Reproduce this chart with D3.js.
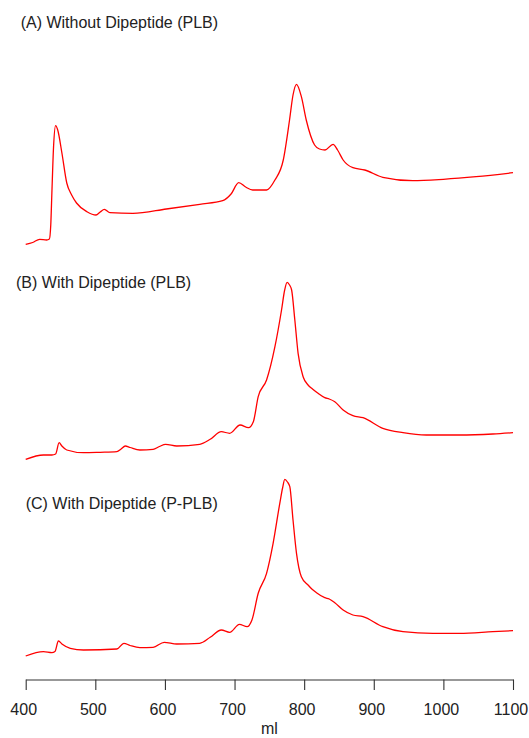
<!DOCTYPE html>
<html>
<head>
<meta charset="utf-8">
<script src="https://cdn.jsdelivr.net/npm/d3@7"></script>
<style>
body { margin: 0; background: #fff; }
svg { display: block; }
text { font-family: "Liberation Sans", Arial, sans-serif; fill: #222; }
</style>
</head>
<body>
<svg id="chart" width="529" height="738"></svg>
<script>
// elution volume (ml) and relative absorbance
var mlA  = [400, 410, 420, 430, 434, 436, 437.6, 440, 443, 446, 452, 459, 466, 473, 488, 501, 507, 513, 521, 554,
            602, 650, 683, 695, 706, 716, 726, 746, 758, 770, 779, 784, 789, 796, 803, 815, 822, 830, 841.5, 848,
            856, 870, 887, 913, 956, 1000, 1047, 1100];
var absA = [5.7, 7.5, 10.7, 10, 11, 25, 57, 103, 124.3, 120, 97, 67, 55, 47, 38.3, 35, 38, 40.7, 37.3, 36.7,
            41, 45.7, 49.3, 56, 67.3, 63, 60, 60, 70, 90, 130, 155, 165.7, 153.3, 130, 105, 101, 100, 105.7, 100,
            90, 82.3, 80, 72.7, 69.3, 70.7, 73.3, 77.3];

var mlB  = [400, 425.5, 437.6, 443, 448, 452, 459, 483, 507, 531, 537, 543, 550, 564, 583, 592, 601, 617, 650, 665,
            681, 693, 708, 720, 727, 734, 746, 758, 767.5, 772, 775.5, 779, 782, 786.6, 791.3, 798.5, 805.6, 812, 820, 829.6,
            836, 844, 856, 870, 884.5, 913, 942, 975.5, 1023, 1071, 1100];
var absB = [5.7, 10, 10, 11, 22.3, 19, 15, 12.3, 12.7, 13.3, 16, 19, 17.5, 15, 15.7, 18.5, 20.7, 19, 20.7, 25.7,
            33.3, 31.7, 40, 37.3, 43.3, 68.3, 85, 118.3, 155, 175, 182.7, 180, 175, 145, 111.7, 88.3, 80, 76, 71.7, 67.3,
            66, 63.3, 55, 49.3, 47.3, 36.7, 32.3, 30, 30, 31, 32.3];

var mlC  = [400, 425.5, 437.6, 442, 447, 452, 464, 483, 531, 541, 550, 564, 583, 599, 617, 650, 665, 681, 693, 707,
            718, 725, 734, 746, 755.4, 765, 769, 772.2, 776, 779.4, 784, 789, 796, 805.6, 811, 817.7, 829.6, 836, 844, 856,
            870, 884.5, 913, 942, 985, 1023, 1071, 1100];
var absC = [4, 8.3, 7.3, 8.5, 19, 16, 11.7, 10, 11, 16.7, 14.5, 12.3, 12.7, 17.7, 16, 16.7, 22.7, 30, 27.7, 35.7,
            33.3, 40, 66.7, 86.7, 116.7, 156.7, 172, 180.7, 178, 173.3, 140, 106.7, 83.3, 75, 71, 67.3, 62.3, 61, 57.3, 50,
            45, 43.3, 33.3, 28.3, 26.7, 26.7, 28.3, 29.3];

var titles = ['(A) Without Dipeptide (PLB)', '(B) With Dipeptide (PLB)', '(C) With Dipeptide (P-PLB)'];
var xTicks = [400, 500, 600, 700, 800, 900, 1000, 1100];
var xLabel = 'ml';

var svg = d3.select('#chart');

var x = d3.scaleLinear()
    .domain([400, 1100])
    .range([25.7, 513]);

// layout of the three stacked panels
var panels = [
    { ml: mlA, abs: absA, title: titles[0], bottom: 250, titleX: 20.7, titleY: 28.3 },
    { ml: mlB, abs: absB, title: titles[1], bottom: 465, titleX: 16,   titleY: 287.5 },
    { ml: mlC, abs: absC, title: titles[2], bottom: 660, titleX: 25.7, titleY: 509 }
];

panels.forEach(function(p) {
    var y = d3.scaleLinear()
        .domain([0, 200])
        .range([p.bottom, p.bottom - 200]);

    var pts = p.ml.map(function(v, i) {
        return [v, p.abs[i]];
    });

    var line = d3.line()
        .x(function(d) { return x(d[0]); })
        .y(function(d) { return y(d[1]); })
        .curve(d3.curveMonotoneX);

    svg.append('path')
        .datum(pts)
        .attr('d', line)
        .style('fill', 'none')
        .style('stroke', '#ff0000')
        .style('stroke-width', 1.3)
        .style('stroke-linejoin', 'round');

    svg.append('text')
        .attr('x', p.titleX)
        .attr('y', p.titleY)
        .style('font-size', '16px')
        .text(p.title);
});

var axis = svg.append('g')
    .attr('transform', 'translate(0,679.5)')
    .call(d3.axisBottom(x)
        .tickValues(xTicks)
        .tickSize(10.5)
        .tickSizeOuter(0)
        .tickPadding(13.5)
        .tickFormat(d3.format('d')));

axis.select('.domain').style('stroke', '#333').style('stroke-width', 1.1);
axis.selectAll('.tick line').style('stroke', '#333').style('stroke-width', 1.1);
axis.selectAll('.tick text')
    .attr('dx', -2.5)
    .style('font-size', '16px')
    .style('font-family', '"Liberation Sans", Arial, sans-serif')
    .style('fill', '#222');

svg.append('text')
    .attr('x', (x.range()[0] + x.range()[1]) / 2)
    .attr('y', 734)
    .attr('text-anchor', 'middle')
    .style('font-size', '16px')
    .text(xLabel);
</script>
</body>
</html>
